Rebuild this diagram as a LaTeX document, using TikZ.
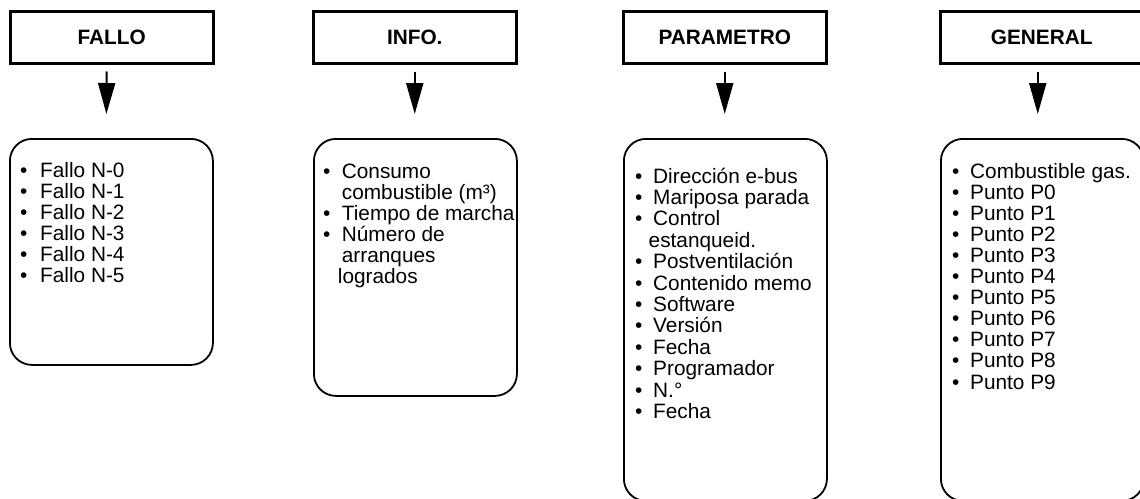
\documentclass[tikz,border=0pt]{standalone}
\usepackage{fontspec}
\setmainfont{Liberation Sans}
\usetikzlibrary{arrows.meta}
\newlength\bw
\newcommand\blist[2]{\vtop{\baselineskip=#1\relax\lineskiplimit=-100pt\lineskip=0pt #2}}
\newcommand\itm[1]{\hbox{\makebox[\bw][l]{•}#1}}
\newcommand\cnt[2][0pt]{\hbox{\hspace{\bw}\hspace{#1}#2}}
\begin{document}
\begin{tikzpicture}[x=1pt,y=-1pt,
  headbox/.style={draw, line width=2.5pt, minimum width=203pt, minimum height=52pt, inner sep=0pt, anchor=north west, font=\fontsize{20.8}{24}\selectfont\bfseries},
  bodybox/.style={draw, line width=1.8pt, rounded corners=22pt, minimum width=203pt, inner sep=0pt, anchor=north west},
  bodytext/.style={anchor=base west, inner sep=0pt, font=\fontsize{20.8}{21}\selectfont},
  arr/.style={line width=2pt, -{Triangle[length=31pt,width=17pt]}}]
\useasboundingbox (0,0) rectangle (1140,498);
\clip (0,0) rectangle (1140,498);

% headers
\node[headbox] (h1) at (9,10) {FALLO};
\node[headbox] (h2) at (312,10) {INFO.};
\node[headbox] (h3) at (622,10) {PARAMETRO};
\node[headbox] (h4) at (939,10) {GENERAL};

% bodies
\node[bodybox, minimum height=226pt] (b1) at (9,138) {};
\node[bodybox, minimum height=257pt] (b2) at (313,138) {};
\node[bodybox, minimum height=362pt] (b3) at (623,138) {};
\node[bodybox, minimum height=362pt] (b4) at (940,138) {};

% arrows
\draw[arr] ([xshift=-5pt,yshift=-7pt]h1.south) -- ([xshift=-5pt,yshift=24pt]b1.north);
\draw[arr] ([yshift=-7pt]h2.south) -- ([yshift=24pt]h2.south |- b2.north);
\draw[arr] ([yshift=-7pt]h3.south) -- ([yshift=24pt]h3.south |- b3.north);
\draw[arr] ([xshift=-4pt,yshift=-7pt]h4.south) -- ([xshift=-4pt,yshift=24pt]h4.south |- b4.north);

% texts
\node[bodytext] (t1) at (20,177) {\setlength\bw{20pt}\blist{21pt}{%
  \itm{Fallo N-0}\itm{Fallo N-1}\itm{Fallo N-2}\itm{Fallo N-3}\itm{Fallo N-4}\itm{Fallo N-5}}};
\node[bodytext] (t2) at (323,178) {\setlength\bw{18.7pt}\blist{21pt}{%
  \itm{Consumo}\cnt{combustible (m³)}\itm{Tiempo de marcha}\itm{Número de}\cnt{arranques}\cnt[-4pt]{logrados}}};
\node[bodytext] (t3) at (635,183) {\setlength\bw{18pt}\blist{21.4pt}{%
  \itm{Dirección e-bus}\itm{Mariposa parada}\itm{Control}\cnt[-4.5pt]{estanqueid.}\itm{Postventilación}%
  \itm{Contenido memo}\itm{Software}\itm{Versión}\itm{Fecha}\itm{Programador}\itm{N.°}\itm{Fecha}}};
\node[bodytext] (t4) at (952,178) {\setlength\bw{18pt}\blist{21.1pt}{%
  \itm{Combustible gas.}\itm{Punto P0}\itm{Punto P1}\itm{Punto P2}\itm{Punto P3}\itm{Punto P4}%
  \itm{Punto P5}\itm{Punto P6}\itm{Punto P7}\itm{Punto P8}\itm{Punto P9}}};
\end{tikzpicture}
\end{document}
